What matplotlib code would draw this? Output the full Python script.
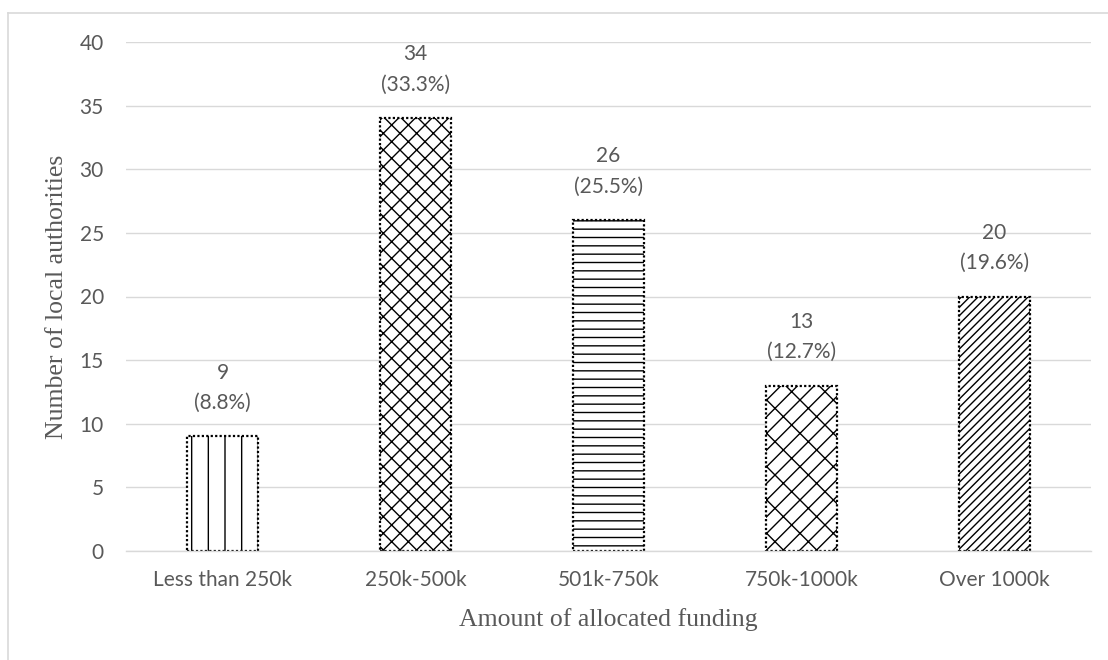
import matplotlib.pyplot as plt
from matplotlib.lines import Line2D

categories = ['Less than 250k', '250k-500k', '501k-750k', '750k-1000k', 'Over 1000k']
counts = [9, 34, 26, 13, 20]
shares = [8.8, 33.3, 25.5, 12.7, 19.6]
hatches = ['|', 'xx', '--', '//\\', '////']

GRAY = '#595959'
GRID = '#d9d9d9'

plt.rcParams['font.family'] = ['Lato', 'DejaVu Sans']
plt.rcParams['hatch.linewidth'] = 1.0

fig = plt.figure(figsize=(11.08, 6.6), dpi=100)
ax = fig.add_axes([126 / 1108, 1 - 551 / 660, 965 / 1108, 509 / 660])

x = list(range(len(categories)))
bars = ax.bar(x, counts, width=0.363, color='white', edgecolor='black',
              linewidth=1.6, linestyle=(0, (1, 1)))
for bar, h in zip(bars, hatches):
    bar.set_hatch(h)

# value and share above each bar
for xi, n, pct in zip(x, counts, shares):
    ax.annotate(f'({pct}%)', (xi, n), xytext=(0, 24), textcoords='offset points',
                ha='center', va='center', fontsize=15, color=GRAY)
    ax.annotate(str(n), (xi, n), xytext=(0, 46), textcoords='offset points',
                ha='center', va='center', fontsize=15, color=GRAY)

ax.set_xlim(-0.5, len(categories) - 0.5)
ax.set_ylim(0, 40)
ax.set_yticks(range(0, 41, 5))
ax.set_xticks(x)
ax.set_xticklabels(categories)
ax.tick_params(axis='both', length=0, labelsize=15, labelcolor=GRAY)
ax.tick_params(axis='x', pad=14)
ax.tick_params(axis='y', pad=16)
ax.grid(True, axis='y', color=GRID, linewidth=1.0)
ax.set_axisbelow(True)
for side in ['top', 'right', 'left']:
    ax.spines[side].set_visible(False)
ax.spines['bottom'].set_color(GRID)
ax.spines['bottom'].set_linewidth(1.0)

ax.set_xlabel('Amount of allocated funding', family='Liberation Serif',
              fontsize=18.5, color=GRAY, labelpad=13)
ax.set_ylabel('Number of local authorities', family='Liberation Serif',
              fontsize=18.5, color=GRAY, labelpad=8)

# light frame around the chart area
fig.add_artist(Line2D([8 / 1108, 8 / 1108], [0, 1 - 13 / 660],
                      transform=fig.transFigure, color=GRID, linewidth=1.2))
fig.add_artist(Line2D([8 / 1108, 1], [1 - 13 / 660, 1 - 13 / 660],
                      transform=fig.transFigure, color=GRID, linewidth=1.2))

fig.savefig('out.png', dpi=100)
